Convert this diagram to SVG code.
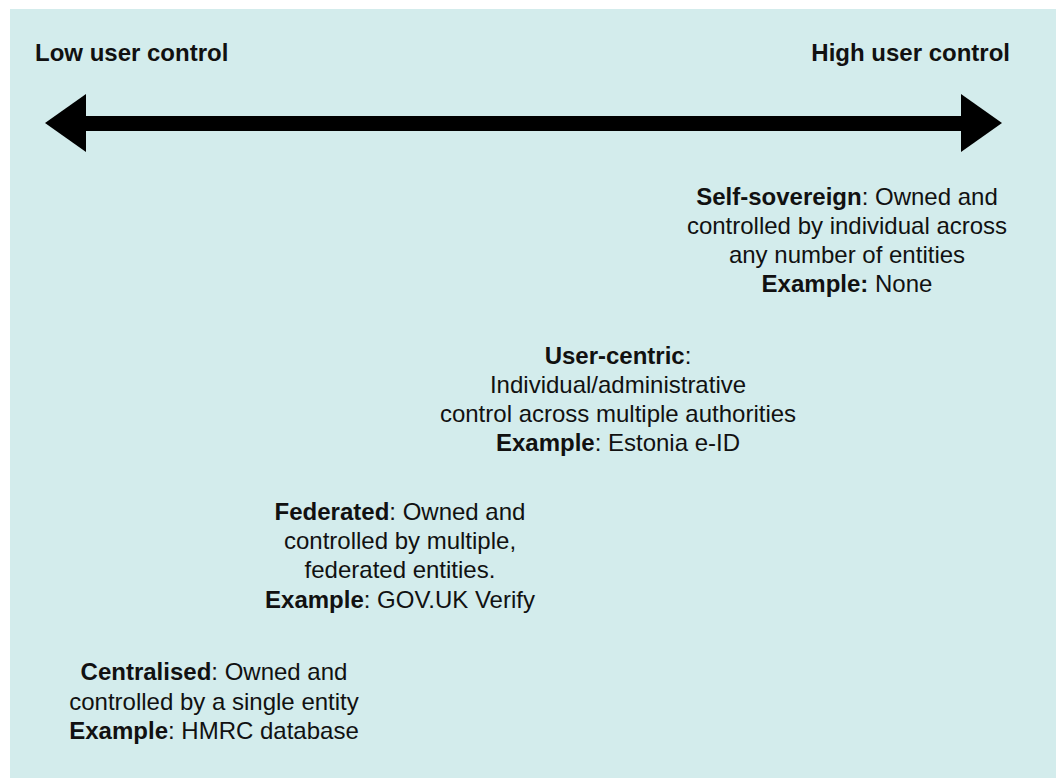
<svg xmlns="http://www.w3.org/2000/svg" width="1056" height="778" viewBox="0 0 1056 778">
<style>
text{font-family:"Liberation Sans",Arial,Helvetica,sans-serif;font-size:24px;fill:#111;}
.b{font-weight:bold;}
.c{text-anchor:middle;}
</style>
<rect x="0" y="0" width="1056" height="778" fill="#ffffff"/>
<rect x="10" y="9" width="1046" height="769" fill="#d3ecec"/>
<g id="axis-labels">
<text class="b" x="35" y="61">Low user control</text>
<text class="b" x="1010" y="61" text-anchor="end">High user control</text>
</g>
<g id="connectors">
<rect x="84" y="116" width="878" height="15" fill="#000"/>
<polygon points="45,123 86,94 86,152" fill="#000"/>
<polygon points="1002,123 961,94 961,152" fill="#000"/>
</g>
<g id="self-sovereign">
<text class="c" x="847" y="205"><tspan class="b">Self-sovereign</tspan>: Owned and</text>
<text class="c" x="847" y="234">controlled by individual across</text>
<text class="c" x="847" y="263">any number of entities</text>
<text class="c" x="847" y="292"><tspan class="b">Example:</tspan> None</text>
</g>
<g id="user-centric">
<text class="c" x="618" y="364"><tspan class="b">User-centric</tspan>:</text>
<text class="c" x="618" y="393">Individual/administrative</text>
<text class="c" x="618" y="422">control across multiple authorities</text>
<text class="c" x="618" y="451"><tspan class="b">Example</tspan>: Estonia e-ID</text>
</g>
<g id="federated">
<text class="c" x="400" y="520"><tspan class="b">Federated</tspan>: Owned and</text>
<text class="c" x="400" y="549">controlled by multiple,</text>
<text class="c" x="400" y="578">federated entities.</text>
<text class="c" x="400" y="608"><tspan class="b">Example</tspan>: GOV.UK Verify</text>
</g>
<g id="centralised">
<text class="c" x="214" y="680"><tspan class="b">Centralised</tspan>: Owned and</text>
<text class="c" x="214" y="710">controlled by a single entity</text>
<text class="c" x="214" y="739"><tspan class="b">Example</tspan>: HMRC database</text>
</g>
</svg>
